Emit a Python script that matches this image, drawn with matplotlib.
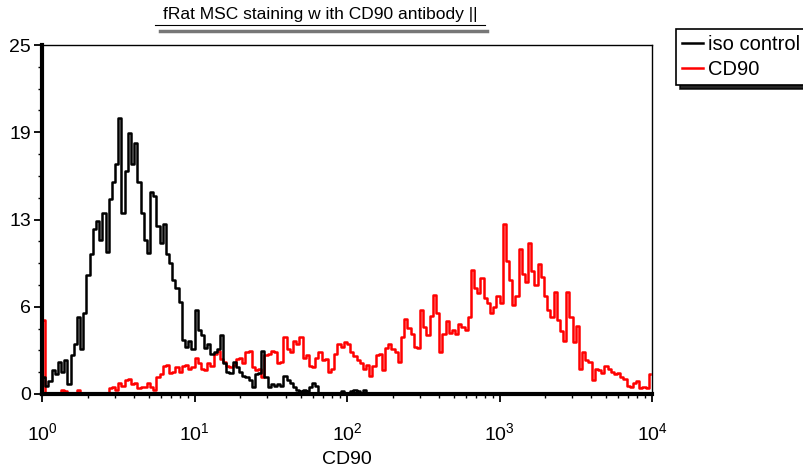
import numpy as np
import matplotlib
matplotlib.use('Agg')
import matplotlib.pyplot as plt
from matplotlib.lines import Line2D
from matplotlib.ticker import FixedLocator, NullFormatter

plt.rcParams['font.family'] = ['Liberation Sans', 'DejaVu Sans']
plt.rcParams['mathtext.fontset'] = 'custom'
plt.rcParams['mathtext.rm'] = 'Liberation Sans'

# histogram channels: 48 per decade, 4 decades (10^0 .. 10^4)
channels_per_decade = 48

iso_control = [
    1.2, 0.6, 0.9, 1.7, 1.4, 2.3, 1.6, 2.4, 0.7, 2.8,
    3.6, 5.5, 3.2, 5.8, 8.5, 10.0, 11.8, 12.4, 11.0, 13.0,
    10.2, 14.0, 15.2, 16.5, 19.8, 13.0, 16.0, 18.7, 16.5, 18.0,
    15.2, 13.0, 11.0, 10.1, 14.5, 14.2, 12.0, 10.8, 12.2, 10.0,
    9.4, 8.2, 7.6, 6.6, 3.9, 3.4, 3.8, 3.2, 6.0, 4.6,
    4.2, 3.3, 3.6, 2.9, 3.0, 3.2, 4.2, 2.2, 1.6, 1.5,
    2.3, 1.9, 1.6, 1.3, 1.2, 1.0, 0.5, 1.4, 1.5, 3.1,
    1.2, 0.5, 0.7, 0.6, 0.7, 0.6, 1.3, 1.0, 0.8, 0.5,
    0.3, 0.2, 0.3, 0.2, 0.5, 0.8, 0.6, 0.0, 0.0, 0.1,
    0.0, 0.0, 0.1, 0.0, 0.2, 0.1, 0.0, 0.2, 0.3, 0.2,
    0.1, 0.3, 0.1, 0.0,
]

cd90 = [
    5.3, 0.0, 0.0, 0.0, 0.0, 0.1, 0.3, 0.2, 0.0, 0.0,
    0.1, 0.3, 0.0, 0.0, 0.0, 0.0, 0.0, 0.0, 0.0, 0.0,
    0.0, 0.4, 0.5, 0.3, 0.8, 0.6, 1.0, 1.1, 0.7, 0.8,
    0.4, 0.5, 0.5, 0.8, 0.5, 0.3, 1.2, 1.4, 2.0, 2.1,
    1.5, 1.6, 1.9, 1.6, 2.0, 2.1, 1.8, 1.9, 2.6, 2.2,
    1.8, 1.7, 2.2, 2.0, 2.9, 3.1, 2.5, 2.3, 2.0, 1.9,
    2.1, 2.5, 2.6, 2.2, 3.0, 3.1, 1.9, 1.7, 1.8, 1.2,
    2.8, 2.9, 3.1, 3.0, 2.2, 2.3, 4.1, 3.2, 3.0, 3.8,
    3.6, 4.1, 2.6, 2.8, 2.0, 1.9, 2.6, 3.0, 2.4, 2.5,
    1.6, 1.8, 2.9, 3.6, 3.4, 3.7, 3.6, 3.0, 2.7, 2.4,
    2.2, 1.8, 2.1, 1.3, 2.0, 2.8, 2.9, 1.7, 3.3, 3.6,
    3.2, 3.0, 2.3, 4.1, 5.4, 4.7, 4.3, 3.4, 3.3, 6.0,
    4.8, 4.2, 5.6, 7.1, 5.8, 3.0, 4.3, 5.2, 4.4, 4.6,
    4.3, 5.0, 4.8, 4.6, 5.5, 8.9, 7.6, 7.2, 8.3, 6.9,
    6.5, 5.8, 6.2, 7.0, 6.5, 12.2, 9.5, 8.2, 6.4, 7.0,
    10.4, 8.6, 8.0, 10.8, 8.8, 7.8, 9.3, 8.4, 7.0, 6.0,
    5.5, 7.3, 5.3, 4.5, 3.8, 7.3, 5.5, 3.7, 4.9, 1.8,
    3.0, 2.4, 2.3, 1.0, 1.8, 1.7, 1.5, 2.0, 1.8, 1.6,
    1.4, 1.5, 1.2, 1.1, 0.6, 0.5, 0.8, 0.9, 0.4, 0.5,
    0.4, 1.4,
]

y_ticks = [0, 6.25, 12.5, 18.75, 25]
y_tick_labels = ['0', '6', '13', '19', '25']
x_ticks = [1, 10, 100, 1000, 10000]
x_tick_labels = [r'$\mathregular{10^{%d}}$' % i for i in range(5)]


def channel_centers(n):
    return 10 ** ((np.arange(n) + 0.5) / channels_per_decade)


fig = plt.figure(figsize=(8.04, 4.68), dpi=100)
ax = fig.add_axes([42 / 804, 74 / 468, 610 / 804, 349 / 468])

ax.plot(channel_centers(len(iso_control)), iso_control, color='black',
        lw=1.8, drawstyle='steps-mid', label='iso control', zorder=3)
ax.plot(channel_centers(len(cd90)), cd90, color='#ff0000',
        lw=1.8, drawstyle='steps-mid', label='CD90', zorder=2)

ax.set_xscale('log')
ax.set_xlim(1, 10000)
ax.set_ylim(0, 25)

ax.xaxis.set_major_locator(FixedLocator(x_ticks))
ax.set_xticklabels(x_tick_labels, fontsize=14)
ax.xaxis.set_minor_locator(FixedLocator(
    [m * 10 ** d for d in range(4) for m in range(2, 10)]))
ax.xaxis.set_minor_formatter(NullFormatter())
ax.yaxis.set_major_locator(FixedLocator(y_ticks))
ax.set_yticklabels(y_tick_labels, fontsize=14)
ax.yaxis.set_minor_locator(FixedLocator(np.arange(0, 25.01, 25 / 16)))

ax.tick_params(which='major', direction='out', length=6, width=1.3)
ax.tick_params(which='minor', direction='out', length=3, width=1.0)
ax.tick_params(axis='x', which='major', pad=14)
ax.tick_params(axis='y', which='major', pad=2)

for side in ['left', 'bottom']:
    ax.spines[side].set_linewidth(3)
for side in ['top', 'right']:
    ax.spines[side].set_linewidth(1)

ax.set_xlabel('CD90', fontsize=14, labelpad=5)

# title with underline and grey shadow bar
fig.text(320 / 804, 1 - 15 / 468, 'fRat MSC staining w ith CD90 antibody ||',
         ha='center', va='center', fontsize=12.5)
fig.add_artist(Line2D([155 / 804, 485 / 804], [1 - 25 / 468, 1 - 25 / 468],
                      color='black', lw=0.8))
fig.add_artist(Line2D([160 / 804, 487 / 804], [1 - 31 / 468, 1 - 31 / 468],
                      color='#777777', lw=2.5))

leg = fig.legend(loc='upper left', bbox_to_anchor=(676 / 804, 1 - 29 / 468),
                 fontsize=14.5, frameon=True, fancybox=False, handlelength=1.05,
                 handletextpad=0.25, borderpad=0.3, labelspacing=0.3,
                 borderaxespad=0,
                 shadow={'color': 'black', 'alpha': 0.85, 'ox': 3, 'oy': -3})
leg.get_frame().set_edgecolor('black')
leg.get_frame().set_linewidth(1.2)

fig.savefig('out.png', dpi=100)
